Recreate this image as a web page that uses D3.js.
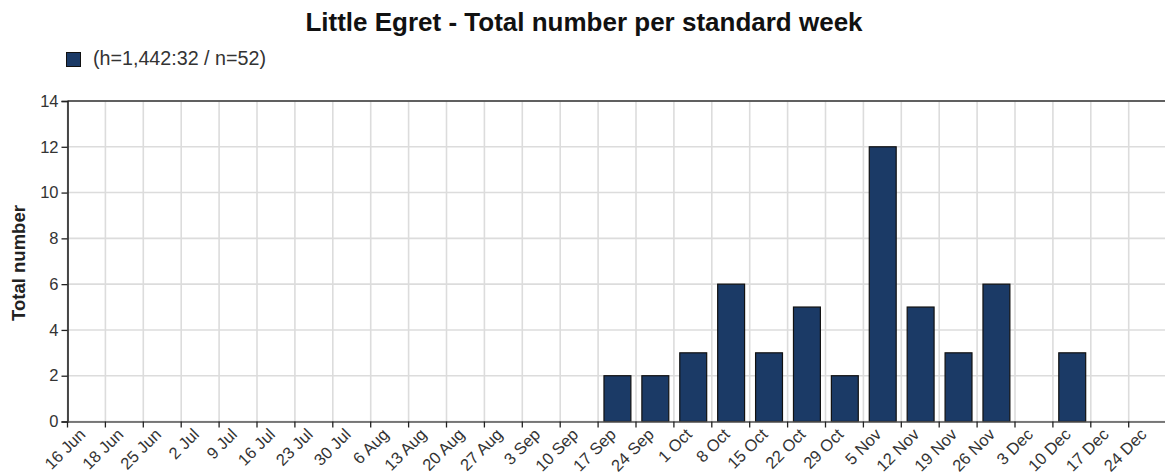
<!DOCTYPE html>
<html><head><meta charset="utf-8">
<script src="https://cdn.jsdelivr.net/npm/d3@7"></script>
<style>body{margin:0;background:#fff;} text{font-family:"Liberation Sans",Arial,sans-serif;}</style>
</head><body>
<svg id="chart" width="1165" height="476"></svg>
<script>
const weeks = ["16 Jun","18 Jun","25 Jun","2 Jul","9 Jul","16 Jul","23 Jul","30 Jul","6 Aug","13 Aug","20 Aug","27 Aug","3 Sep","10 Sep","17 Sep","24 Sep","1 Oct","8 Oct","15 Oct","22 Oct","29 Oct","5 Nov","12 Nov","19 Nov","26 Nov","3 Dec","10 Dec","17 Dec","24 Dec"];
const totals = [0,0,0,0,0,0,0,0,0,0,0,0,0,0,2,2,3,6,3,5,2,12,5,3,6,0,3,0,0];
const yTicks = [0,2,4,6,8,10,12,14];
const titleText = "Little Egret - Total number per standard week";
const legendText = "(h=1,442:32 / n=52)";
const yTitle = "Total number";

const svg = d3.select("#chart");
const pLeft = 67.5, pTop = 101, pBottom = 421.5, step = 37.9;
const pRight = pLeft + step * weeks.length;

const x = d3.scaleBand().domain(weeks).range([pLeft, pRight]).paddingInner(0).paddingOuter(0);
const y = d3.scaleLinear().domain([0, 14]).range([pBottom, pTop]);

// gridlines
svg.append("g").selectAll("line").data(weeks).join("line")
  .attr("x1", d => x(d)).attr("x2", d => x(d)).attr("y1", pTop).attr("y2", pBottom)
  .attr("stroke", "#dcdcdc").attr("stroke-width", 1.6);
svg.append("g").selectAll("line").data(yTicks).join("line")
  .attr("x1", pLeft).attr("x2", 1165).attr("y1", d => y(d)).attr("y2", d => y(d))
  .attr("stroke", "#dcdcdc").attr("stroke-width", 1.6);

// top border
svg.append("line").attr("x1", pLeft).attr("x2", 1165).attr("y1", pTop).attr("y2", pTop)
  .attr("stroke", "#333").attr("stroke-width", 1.6);

// bars
const bw = x.bandwidth();
svg.append("g").selectAll("rect").data(weeks.map((w, i) => ({w, v: totals[i]})).filter(d => d.v > 0)).join("rect")
  .attr("x", d => x(d.w) + bw * 0.155).attr("width", bw * 0.71)
  .attr("y", d => y(d.v)).attr("height", d => y(0) - y(d.v))
  .attr("fill", "#1b3a66").attr("stroke", "#111").attr("stroke-width", 1.2);

// y axis
const yAxis = d3.axisLeft(y).tickValues(yTicks).tickSize(6).tickPadding(3);
const gy = svg.append("g").attr("transform", `translate(${pLeft},0)`).call(yAxis);
gy.select(".domain").attr("stroke", "#222").attr("stroke-width", 1.6);
gy.selectAll(".tick line").attr("stroke", "#222").attr("stroke-width", 1.3);
gy.selectAll(".tick text").attr("font-size", 16.5).attr("fill", "#333").attr("font-family", "Liberation Sans, Arial, sans-serif");

// x axis
const xAxis = d3.axisBottom(x).tickSize(6).tickSizeOuter(0);
const gx = svg.append("g").attr("transform", `translate(0,${pBottom})`).call(xAxis);
gx.select(".domain").attr("stroke", "#555").attr("stroke-width", 1.6).attr("d", `M${pLeft},0.5H1165`);
gx.selectAll(".tick").attr("transform", d => `translate(${x(d)},0)`);
gx.selectAll(".tick line").attr("stroke", "#222").attr("stroke-width", 1.3);
gx.selectAll(".tick text")
  .attr("font-size", 16.5).attr("fill", "#333").attr("font-family", "Liberation Sans, Arial, sans-serif")
  .attr("text-anchor", "end").attr("dy", null).attr("y", null)
  .attr("transform", "translate(19,14) rotate(-45)");

// title
svg.append("text").attr("x", 584).attr("y", 31).attr("text-anchor", "middle")
  .attr("font-size", 26).attr("font-weight", "bold").attr("fill", "#111").text(titleText);

// legend
svg.append("rect").attr("x", 66.5).attr("y", 52.5).attr("width", 14).attr("height", 14)
  .attr("fill", "#1b3a66").attr("stroke", "#111").attr("stroke-width", 1);
svg.append("text").attr("x", 93).attr("y", 65).attr("font-size", 19.7).attr("fill", "#333").text(legendText);

// y title
svg.append("text").attr("transform", `translate(25,263) rotate(-90)`).attr("text-anchor", "middle")
  .attr("font-size", 18.5).attr("font-weight", "bold").attr("fill", "#222").text(yTitle);
</script>
</body></html>
